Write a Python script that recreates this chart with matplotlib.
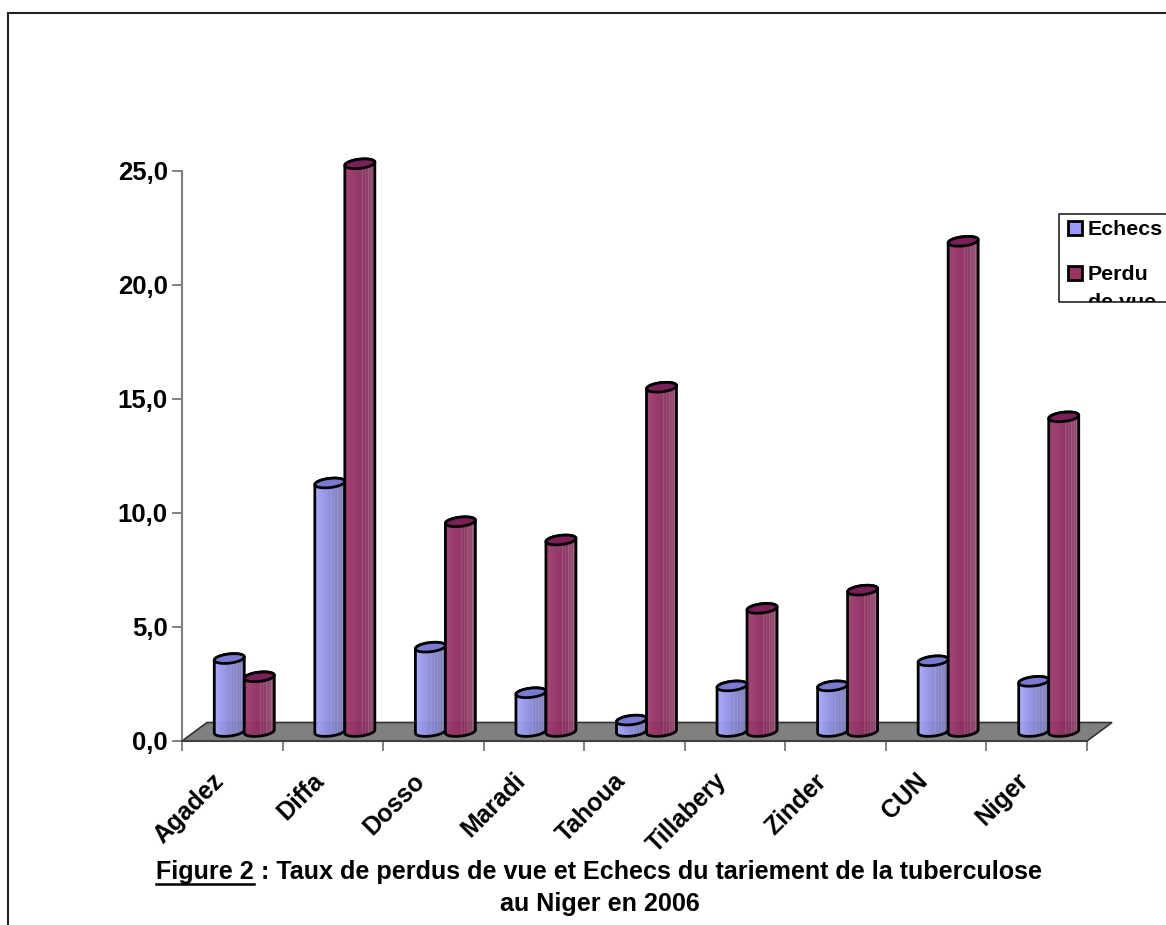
import numpy as np
import matplotlib
matplotlib.use("Agg")
import matplotlib.pyplot as plt
from matplotlib.path import Path
from matplotlib.patches import PathPatch, Polygon, Rectangle
from matplotlib.transforms import Bbox, TransformedBbox, ScaledTranslation
from matplotlib.colors import to_rgb

categories = ["Agadez", "Diffa", "Dosso", "Maradi", "Tahoua", "Tillabery", "Zinder", "CUN", "Niger"]
echecs = [3.2, 10.9, 3.7, 1.7, 0.5, 2.0, 2.0, 3.1, 2.2]
perdu = [2.4, 24.9, 9.2, 8.4, 15.1, 5.4, 6.2, 21.5, 13.8]
y_ticks = [0, 5, 10, 15, 20, 25]
y_labels = ["0,0", "5,0", "10,0", "15,0", "20,0", "25,0"]
legend_names = [["Echecs"], ["Perdu", "de vue"]]

W, H = 1166, 925
plt.rcParams["font.family"] = ["Liberation Sans", "DejaVu Sans"]
plt.rcParams["font.weight"] = "bold"
fig = plt.figure(figsize=(W / 100, H / 100), dpi=100, facecolor="white")

# plot area: x 182..1087 px, y 171..741 px
L, R, T, B = 182, 1087, 171, 741
ax = fig.add_axes([L / W, 1 - B / H, (R - L) / W, (B - T) / H])
ax.set_facecolor("none")
ax.set_xlim(0, len(categories))
ax.set_ylim(0, 25)
cx = (R - L) / len(categories)   # px per category
cy = (B - T) / 25                # px per unit

# floor
dx, dy = 25 / cx, 18.5 / cy
n = len(categories)
ax.add_patch(Polygon([(0, 0), (n, 0), (n + dx, dy), (dx, dy)], closed=True, facecolor="#808080",
                     edgecolor="#333333", lw=1.2, clip_on=False, zorder=1))

for s in ("top", "right"):
    ax.spines[s].set_visible(False)
ax.spines["left"].set_color("#808080")
ax.spines["left"].set_linewidth(1.5)
ax.spines["bottom"].set_color("#404040")
ax.spines["bottom"].set_linewidth(1.5)
ax.set_yticks(y_ticks, y_labels, fontsize=18.5, fontweight="bold")
ax.tick_params(axis="y", length=7.2, width=1.1, color="#606060", pad=3)
ax.set_xticks(np.arange(n + 1), [""] * (n + 1))
ax.tick_params(axis="x", which="major", length=7.5, width=1.1, color="#606060")
ax.set_xticks(np.arange(n) + 0.5, categories, minor=True, rotation=45, ha="right", va="top",
              rotation_mode="anchor", fontsize=17.8, fontweight="bold")
ax.tick_params(axis="x", which="minor", length=0, pad=20)
for lab in ax.get_xticklabels(minor=True):
    lab.set_transform(lab.get_transform() + ScaledTranslation(-21 / 100, 0, fig.dpi_scale_trans))

# cylinder texture across the width
t = np.linspace(0, 1, 90)
streak = np.zeros_like(t)
for pos, amp in [(0.56, .38), (0.66, .30), (0.76, .42), (0.84, .32), (0.92, .42)]:
    streak += amp * np.exp(-((t - pos) / 0.014) ** 2)


def texture(light, dark, wash):
    a, b = np.array(to_rgb(light)), np.array(to_rgb(dark))
    base = np.outer(1 - t, a) + np.outer(t, b)
    s = np.clip(streak + wash * np.clip((t - 0.6) / 0.4, 0, 1), 0, 1)[:, None]
    return (base * (1 - s) + s * np.array([1, 1, 1.0]) * 0.8)[None, :, :]


series = [
    (echecs, -1, texture("#a8a8ff", "#6c6cb4", 0.10), "#7a7ad2"),
    (perdu, 0, texture("#a03c70", "#7c2050", 0.18), "#7a1f58"),
]

bw = 30 / cx
rx = bw / 2
ry = 4.6 / cy
tilt = 1.6 / cy
base = 9.5 / cy
shift = 12 / cx
th = np.linspace(0, 2 * np.pi, 80)

for vals, side, tex, topcol in series:
    for i, v in enumerate(vals):
        x0 = i + 0.5 + shift + side * bw
        xc = x0 + rx
        ytop = v + base
        a = np.linspace(np.pi, 2 * np.pi, 40)
        bx = xc + rx * np.cos(a)
        by = base + ry * np.sin(a) + tilt * np.cos(a)
        a2 = np.linspace(0, np.pi, 40)
        tx = xc + rx * np.cos(a2)
        ty = ytop + ry * np.sin(a2) + tilt * np.cos(a2)
        px = np.r_[bx, tx, bx[0]]
        py = np.r_[by, ty, by[0]]
        path = Path(np.c_[px, py])
        z = 3 + i * 2 + (side + 1)
        im = ax.imshow(tex, extent=[x0, x0 + bw, base - ry * 2, ytop + ry * 2], aspect="auto",
                       interpolation="bilinear", zorder=z, alpha=0.96)
        outline = PathPatch(path, facecolor="none", edgecolor="black", lw=2.0, zorder=z + 0.2,
                            clip_on=False, joinstyle="round")
        ax.add_patch(outline)
        im.set_clip_path(outline)
        im.set_clip_box(fig.bbox)
        ell = Polygon(np.c_[xc + rx * np.cos(th), ytop + ry * np.sin(th) + tilt * np.cos(th)], closed=True,
                      facecolor=topcol, edgecolor="black", lw=2.0, zorder=z + 0.4, clip_on=False)
        ax.add_patch(ell)

ax.set_xlim(0, n)
ax.set_ylim(0, 25)

# overlay in pixel coordinates for frame, legend, caption
ov = fig.add_axes([0, 0, 1, 1], zorder=50)
ov.set_xlim(0, W)
ov.set_ylim(H, 0)
ov.axis("off")
ov.plot([7.5, 7.5, W], [H, 12.5, 12.5], color="#222222", lw=1.5, solid_joinstyle="miter")

# legend (cut off by its box, as in the source)
box = Bbox([[1059, 214], [W, 302]])
clip = TransformedBbox(box, ov.transData)
ov.plot([W, 1059, 1059, W], [214, 214, 302, 302], color="#222222", lw=1.2)
for (lines, col, sy) in zip(legend_names, ["#9999ff", "#993366"], [228, 273]):
    ov.add_patch(Rectangle((1068, sy - 7), 14, 14, facecolor=col, edgecolor="black", lw=2.0))
    for k, line in enumerate(lines):
        tx = ov.text(1088, sy + 7 + k * 27.5, line, fontsize=15.4, fontweight="bold", ha="left", va="baseline")
        tx.set_clip_box(clip)
        tx.set_clip_on(True)

# caption
fs = 18.1
r = fig.canvas.get_renderer()
p1 = ov.text(156, 879.5, "Figure 2", fontsize=fs, fontweight="bold", ha="left", va="baseline")
w1 = p1.get_window_extent(r).width
ov.plot([156, 156 + w1], [883.5, 883.5], color="black", lw=1.8)
ov.text(156 + w1, 879.5, " : Taux de perdus de vue et Echecs du tariement de la tuberculose",
        fontsize=fs, fontweight="bold", ha="left", va="baseline")
ov.text(600, 911.5, "au Niger en 2006", fontsize=fs, fontweight="bold", ha="center", va="baseline")

fig.savefig("out.png", dpi=100)
